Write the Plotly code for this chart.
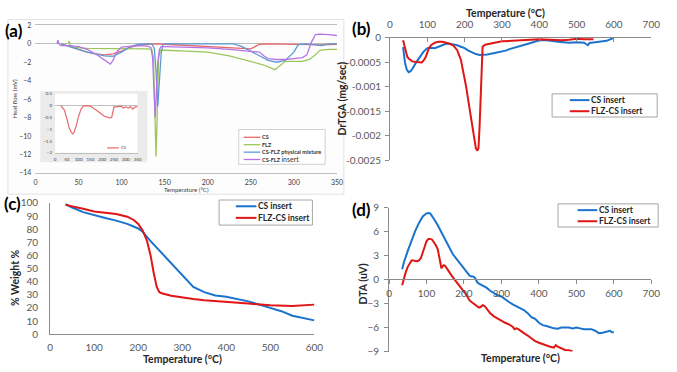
import plotly.graph_objects as go

W, H = 677, 372

# ---------------- DATA ----------------
# (a) DSC heat flow (mV) vs temperature (°C)
a_cs_x = [30, 40, 50, 60, 70, 80, 90, 100, 110, 120, 130, 140, 150, 160, 180, 200, 220, 240, 250, 255, 260, 270, 290, 310, 320, 330, 340, 350]
a_cs_y = [0, -0.3, -0.6, -0.9, -1.1, -1.2, -1.1, -0.8, -0.4, -0.15, -0.05, 0, -0.05, -0.1, -0.25, -0.35, -0.45, -0.5, -0.55, -0.3, -0.05, 0, 0, 0, -0.08, -0.12, -0.08, -0.05]
a_flz_x = [38, 39, 40, 45, 60, 80, 100, 120, 130, 135, 137, 138, 139, 140, 141, 142, 143, 145, 150, 175, 200, 225, 250, 265, 278, 285, 290, 300, 310, 318, 325, 330, 340, 350]
a_flz_y = [0, 0.3, -0.1, -0.4, -0.5, -0.5, -0.5, -0.5, -0.55, -0.6, -1.5, -5, -10, -12.2, -9, -4, -1.5, -0.7, -0.7, -0.8, -0.9, -1.3, -1.9, -2.3, -2.8, -2.3, -1.9, -1.9, -1.9, -1.7, -1.2, -0.7, -0.6, -0.6]
a_pm_x = [30, 40, 50, 60, 70, 80, 90, 100, 110, 120, 130, 135, 138, 140, 142, 144, 146, 148, 150, 200, 230, 240, 250, 260, 270, 280, 290, 300, 305, 315, 325, 332, 340, 350]
a_pm_y = [0, -0.3, -0.6, -0.9, -1.1, -1.3, -1.35, -0.9, -0.3, -0.05, 0, 0, -0.5, -3, -6.8, -4, -1.0, -0.1, 0, 0, 0, -0.3, -0.8, -1.3, -1.8, -2.0, -1.8, -0.9, -0.1, 0, -0.15, -0.2, 0, 0]
a_ins_x = [25, 26, 27, 28, 30, 40, 50, 60, 70, 80, 85, 87, 90, 95, 100, 110, 120, 130, 134, 136, 138, 139, 140, 142, 144, 146, 150, 175, 200, 225, 250, 260, 265, 270, 280, 290, 300, 310, 315, 318, 320, 325, 330, 340, 350]
a_ins_y = [0, 0.4, 0.1, -0.1, -0.2, -0.2, -0.3, -0.6, -1.1, -1.7, -2.0, -2.2, -1.8, -0.8, -0.35, -0.25, -0.2, -0.25, -0.4, -1.5, -5, -8, -6, -2, -0.6, -0.3, -0.3, -0.35, -0.45, -0.6, -0.8, -0.9, -1.3, -1.6, -1.7, -1.7, -1.6, -1.5, -1.2, -0.5, 0.1, 1.0, 1.05, 1.0, 0.9]
# (a) inset: CS alone
in_cs_x = [25, 40, 50, 60, 70, 75, 80, 90, 100, 110, 120, 130, 150, 170, 190, 210, 230, 240, 245, 250, 260, 280, 290, 300, 310, 320, 330, 340, 350]
in_cs_y = [0, -0.2, -0.55, -0.95, -1.15, -1.2, -1.15, -0.85, -0.45, -0.15, -0.02, 0, -0.02, -0.15, -0.3, -0.45, -0.52, -0.5, -0.3, -0.05, -0.05, -0.02, -0.1, -0.05, -0.1, -0.05, -0.15, -0.05, -0.05]

# (b) DrTGA (mg/sec)
b_cs_x = [35, 40, 45, 50, 55, 60, 70, 80, 90, 100, 105, 110, 120, 130, 140, 150, 160, 170, 180, 190, 200, 210, 220, 230, 240, 250, 260, 280, 300, 310, 320, 340, 350, 370, 400, 420, 450, 480, 500, 520, 530, 535, 540, 560, 580, 600]
b_cs_y = [-0.00019, -0.0005, -0.00065, -0.0007, -0.00068, -0.00063, -0.0005, -0.00038, -0.00028, -0.00021, -0.0002, -0.0002, -0.00021, -0.00018, -0.00014, -0.00012, -0.00012, -0.00013, -0.00015, -0.00018, -0.00021, -0.00026, -0.0003, -0.00033, -0.00035, -0.00035, -0.00034, -0.00031, -0.00028, -0.00026, -0.00023, -0.00018, -0.00016, -0.00012, -0.00005, -0.00005, -0.00008, -0.0001, -0.00009, -0.0001, -0.00015, -0.0001, -0.0001, -0.00008, -0.00006, 0]
b_flz_x = [35, 38, 42, 46, 50, 55, 60, 70, 80, 85, 90, 95, 100, 105, 110, 120, 130, 140, 150, 160, 170, 180, 190, 196, 204, 211, 218, 224, 230, 234, 237, 240, 243, 246, 248, 255, 260, 270, 280, 300, 320, 350, 380, 400, 430, 460, 480, 500, 520, 545]
b_flz_y = [-0.00005, -0.00015, -0.0003, -0.00038, -0.00042, -0.00046, -0.00048, -0.00049, -0.00049, -0.0005, -0.00046, -0.0004, -0.0003, -0.0002, -0.00015, -0.0001, -0.00008, -0.00008, -0.0001, -0.00012, -0.00016, -0.00025, -0.00045, -0.00068, -0.001, -0.00134, -0.0017, -0.002, -0.00225, -0.0023, -0.00225, -0.0018, -0.0011, -0.0004, -0.00018, -0.00014, -0.00013, -0.00011, -0.0001, -0.00007, -0.00006, -0.00006, -0.00004, -0.00003, -0.00004, -0.00005, -0.00004, -0.00002, -0.00003, -0.00003]

# (c) TGA % weight
c_cs_x = [35, 50, 75, 100, 125, 150, 175, 200, 210, 225, 250, 275, 300, 325, 350, 375, 400, 425, 450, 475, 500, 525, 550, 575, 600]
c_cs_y = [99, 96.5, 93, 90.5, 88.5, 86.5, 84, 80.5, 78, 72, 63, 54, 45, 36, 32, 29.5, 28.5, 27, 25, 22.5, 20, 17.5, 14, 12, 10.5]
c_flz_x = [35, 50, 75, 100, 125, 150, 175, 190, 200, 210, 220, 228, 235, 242, 248, 255, 275, 300, 325, 350, 400, 450, 500, 550, 600]
c_flz_y = [98.5, 97.5, 95.5, 93.5, 92.5, 91.5, 89.5, 87, 84, 79, 71, 60, 47, 36, 32, 31, 29.2, 27.7, 26.7, 25.8, 24.3, 23.3, 22, 21.5, 22.5]

# (d) DTA (uV)
d_cs_x = [35, 40, 50, 60, 70, 80, 90, 100, 105, 110, 115, 120, 130, 140, 150, 160, 170, 180, 190, 200, 210, 215, 220, 225, 230, 235, 240, 250, 260, 270, 280, 290, 300, 310, 320, 330, 340, 350, 360, 370, 380, 385, 390, 400, 410, 420, 430, 440, 450, 460, 470, 480, 490, 500, 510, 520, 530, 540, 550, 560, 570, 580, 590, 595, 600]
d_cs_y = [1.3, 2.2, 3.6, 4.9, 6.1, 7.1, 7.9, 8.3, 8.35, 8.3, 8.0, 7.6, 6.8, 5.9, 4.8, 3.9, 3.2, 2.6, 2.0, 1.4, 0.8, 0.5, 0.4, 0.4, 0.2, -0.3, -0.5, -0.7, -1.0, -1.4, -1.7, -2.0, -2.1, -2.5, -2.8, -3.1, -3.3, -3.5, -3.8, -4.2, -4.7, -4.8, -4.9, -5.4, -5.7, -5.8, -6.0, -6.1, -6.15, -6.0, -6.0, -6.0, -6.1, -6.0, -6.1, -6.2, -6.2, -6.2, -6.4, -6.7, -6.65, -6.55, -6.4, -6.6, -6.6]
d_flz_x = [35, 40, 45, 50, 55, 60, 65, 70, 75, 80, 85, 90, 95, 100, 105, 110, 115, 120, 125, 130, 135, 138, 140, 143, 146, 150, 155, 160, 170, 180, 190, 200, 205, 210, 215, 220, 230, 240, 245, 250, 255, 260, 270, 280, 290, 300, 310, 320, 330, 335, 340, 345, 350, 360, 370, 380, 390, 400, 410, 420, 430, 440, 445, 450, 460, 470, 480, 490]
d_flz_y = [-0.7, 0.3, 1.0, 1.6, 2.1, 2.4, 2.4, 2.3, 2.3, 2.4, 2.7, 3.4, 4.2, 4.8, 5.1, 5.1, 5.0, 4.7, 4.3, 3.8, 2.7, 1.8, 1.4, 1.7, 1.8, 1.7, 1.4, 1.0, 0.3, -0.3, -0.9, -1.4, -1.8, -2.2, -2.6, -2.8, -3.1, -3.5, -3.4, -3.2, -3.3, -3.6, -4.2, -4.6, -4.9, -5.2, -5.4, -5.6, -5.9, -6.2, -6.1, -6.2, -6.4, -6.7, -7.0, -7.4, -7.7, -7.9, -8.1, -8.3, -8.4, -8.5, -8.2, -8.4, -8.6, -8.8, -8.85, -9.0]

b_ytickvals = [0, -0.0005, -0.001, -0.0015, -0.002, -0.0025]
b_yticktext = ["0", "-0.0005", "-0.001", "-0.0015", "-0.002", "-0.0025"]

# ---------------- STYLE ----------------
FONT = "Lato"
BLUE = "#1A73CC"
RED = "#E01515"
A_RED = "#E8696B"
A_GREEN = "#9BC75A"
A_BLUE = "#5B9BD5"
A_PURPLE = "#B774E6"
AX = "#8C8C8C"
TICK = "#595959"


def px(x):
    return x / W


def py(y):
    return 1 - y / H


fig = go.Figure()


def line(x, y, color, xa, ya, width=2.0):
    fig.add_trace(go.Scatter(x=x, y=y, mode="lines", line=dict(color=color, width=width),
                             xaxis=xa, yaxis=ya, showlegend=False, hoverinfo="skip"))


# (a)
line(a_cs_x, a_cs_y, A_RED, "x", "y", 1.3)
line(a_flz_x, a_flz_y, A_GREEN, "x", "y", 1.3)
line(a_pm_x, a_pm_y, A_BLUE, "x", "y", 1.3)
line(a_ins_x, a_ins_y, A_PURPLE, "x", "y", 1.3)
line(in_cs_x, in_cs_y, A_RED, "x2", "y2", 1.2)
# (b)
line(b_cs_x, b_cs_y, BLUE, "x3", "y3")
line(b_flz_x, b_flz_y, RED, "x3", "y3")
# (c)
line(c_cs_x, c_cs_y, BLUE, "x4", "y4")
line(c_flz_x, c_flz_y, RED, "x4", "y4")
# (d)
line(d_cs_x, d_cs_y, BLUE, "x5", "y5")
line(d_flz_x, d_flz_y, RED, "x5", "y5")

small = dict(family=FONT, size=7, color="#404040")
tiny = dict(family=FONT, size=4.5, color="#404040")
mid = dict(family=FONT, size=10, color=TICK)

layout = dict(
    width=W, height=H, margin=dict(l=0, r=0, t=0, b=0),
    paper_bgcolor="white", plot_bgcolor="rgba(0,0,0,0)",
    font=dict(family=FONT),
    showlegend=False,
    # (a)
    xaxis=dict(domain=[px(33), px(340)], range=[0, 350], anchor="y", tickvals=list(range(0, 351, 50)),
               tickfont=small, showline=True, linecolor="#BFBFBF", mirror=True, showgrid=False,
               zeroline=False, ticks="", ticklabelstandoff=3),
    yaxis=dict(domain=[py(172), py(19)], range=[-14, 2], anchor="x", dtick=2, tickfont=small,
               showline=False, showgrid=False, zeroline=True, zerolinecolor="#BFBFBF", zerolinewidth=1,
               ticks="", ticklabelstandoff=3),
    # inset
    xaxis2=dict(domain=[px(53), px(137)], range=[0, 350], anchor="y2", tickvals=list(range(0, 351, 50)),
                tickfont=tiny, showline=True, linecolor="#BFBFBF", showgrid=False, zeroline=False,
                ticks="", ticklabelstandoff=2),
    yaxis2=dict(domain=[py(151), py(90)], range=[-2, 0.5], anchor="x2", dtick=0.5, tickfont=tiny,
                showline=False, showgrid=False, zeroline=True, zerolinecolor="#BFBFBF", zerolinewidth=1,
                ticks="", ticklabelstandoff=2),
    # (b)
    xaxis3=dict(domain=[px(394), px(660)], range=[0, 700], anchor="y3", side="top", dtick=100,
                tickfont=mid, showline=True, linecolor=AX, showgrid=False, zeroline=False,
                ticks="inside", ticklen=4, tickcolor=AX, ticklabelstandoff=5),
    yaxis3=dict(domain=[py(159), py(32)], range=[-0.0025, 0], anchor="x3", tickvals=b_ytickvals,
                ticktext=b_yticktext, tickfont=mid, showline=True, linecolor=AX, showgrid=False,
                zeroline=False, ticks="outside", ticklen=4, tickcolor=AX, ticklabelstandoff=2),
    # (c)
    xaxis4=dict(domain=[px(48), px(317)], range=[0, 600], anchor="y4", dtick=100, tickfont=mid,
                showline=True, linecolor=AX, showgrid=False, zeroline=False, ticks="",
                ticklabelstandoff=4),
    yaxis4=dict(domain=[py(339), py(203)], range=[0, 100], anchor="x4", dtick=10, tickfont=mid,
                showline=True, linecolor=AX, showgrid=False, zeroline=False, ticks="",
                ticklabelstandoff=9),
    # (d)
    xaxis5=dict(domain=[px(393), px(660)], range=[0, 700], anchor="free", position=py(282), dtick=100,
                tickfont=mid, showline=True, linecolor=AX, showgrid=False, zeroline=False,
                ticks="outside", ticklen=4, tickcolor=AX, ticklabelstandoff=1),
    yaxis5=dict(domain=[py(357), py(208)], range=[-9, 9], anchor="x5", dtick=3, tickfont=mid,
                showline=True, linecolor=AX, showgrid=False, zeroline=False, ticks="outside",
                ticklen=4, tickcolor=AX, ticklabelstandoff=3),
)
fig.update_layout(**layout)

shapes = []
# (a) chart frame
shapes.append(dict(type="rect", xref="paper", yref="paper", x0=px(5), x1=px(347), y0=py(194), y1=py(13),
                   line=dict(color="#E3E3E3", width=1), fillcolor="#FDFDFD", layer="below"))
# inset background & plot area
shapes.append(dict(type="rect", xref="paper", yref="paper", x0=px(38), x1=px(147), y0=py(161), y1=py(87),
                   line=dict(width=0), fillcolor="#EBEBEB", layer="below"))
shapes.append(dict(type="rect", xref="paper", yref="paper", x0=px(53), x1=px(137), y0=py(151), y1=py(90),
                   line=dict(width=0), fillcolor="white", layer="below"))

annotations = []


def text(x, y, s, font, xanchor="center", angle=0):
    annotations.append(dict(xref="paper", yref="paper", x=px(x), y=py(y), text=s, showarrow=False,
                            font=font, xanchor=xanchor, yanchor="middle", textangle=angle,
                            borderpad=0))


def legend(box, items, lx0, lx1, tx, font, width=2.0, border="#A6A6A6"):
    if box is not None:
        x0, y0, x1, y1 = box
        shapes.append(dict(type="rect", xref="paper", yref="paper", x0=px(x0), x1=px(x1), y0=py(y1),
                           y1=py(y0), line=dict(color=border, width=1), fillcolor="white"))
    for (yy, col, lab) in items:
        shapes.append(dict(type="line", xref="paper", yref="paper", x0=px(lx0), x1=px(lx1), y0=py(yy),
                           y1=py(yy), line=dict(color=col, width=width)))
        text(tx, yy, lab, font, xanchor="left")


# legends
lf_a = dict(family=FONT, size=5.5, color="#333333")
legend((240, 127, 328, 163), [(135, A_RED, "<b>CS</b>"), (142.7, A_GREEN, "<b>FLZ</b>"),
                              (150.4, A_BLUE, "<b>CS-FLZ physical mixture</b>"),
                              (158, A_PURPLE, "<b>CS-FLZ</b> <span style='font-size:7px'>insert</span>")],
       245, 262, 263, lf_a, width=1.3, border="#D0D0D0")
legend(None, [(146, A_RED, "CS")], 106, 118, 119, dict(family=FONT, size=4, color="#404040"), width=1.2)
lf = dict(family=FONT, size=8.5, color="#262626")
legend((559, 90, 666, 114), [(96.5, BLUE, "<b>CS insert</b>"), (108, RED, "<b>FLZ-CS insert</b>")],
       577, 597, 598, lf)
legend((220, 200, 315, 226), [(206.5, BLUE, "<b>CS insert</b>"), (218.5, RED, "<b>FLZ-CS insert</b>")],
       237, 258, 259, lf)
legend((565, 204, 667, 228), [(210.5, BLUE, "<b>CS insert</b>"), (222, RED, "<b>FLZ-CS insert</b>")],
       585, 605, 606, lf)

# axis titles
tf = dict(family=FONT, size=10.5, color="#262626")
text(187, 189.5, "Temperature (°C)", dict(family=FONT, size=6, color="#404040"))
text(12, 95, "Heat flow (mV)", dict(family=FONT, size=6, color="#404040"), angle=-90)
text(512, 6, "<b>Temperature (°C)</b>", tf)
text(345, 95, "<b>DrTGA (mg/sec)</b>", tf, angle=-90)
text(183, 365, "<b>Temperature (°C)</b>", tf)
text(12, 280, "<b>% Weight %</b>", tf, angle=-90)
text(527, 364, "<b>Temperature (°C)</b>", tf)
text(366, 287, "<b>DTA (uV)</b>", tf, angle=-90)

# panel labels
pl = dict(family=FONT, size=17, color="black")
text(11, 24, "<b>(a)</b>", pl)
text(365, 22, "<b>(b)</b>", pl)
text(10, 204, "<b>(c)</b>", pl)
text(365, 210, "<b>(d)</b>", pl)

fig.update_layout(shapes=shapes, annotations=annotations)
fig.write_html("out.html", config={"displayModeBar": False, "staticPlot": True},
               post_script="document.body.style.margin='0';document.body.style.overflow='hidden';")
